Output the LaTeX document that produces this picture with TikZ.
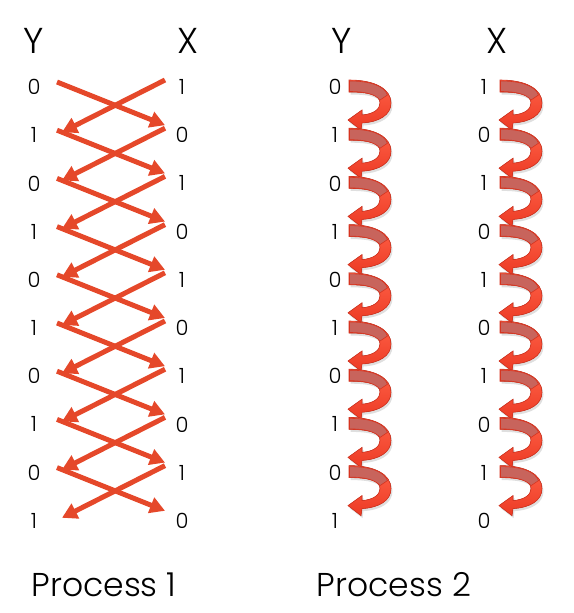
\documentclass[tikz,border=0pt]{standalone}
\usepackage{fontspec}
\setmainfont{Poppins Light}
\usetikzlibrary{arrows.meta,calc,shadows}
\definecolor{arrowred}{RGB}{229,72,42}
\definecolor{curlline}{RGB}{214,52,32}
\definecolor{curltop}{RGB}{255,98,72}
\definecolor{curlbottom}{RGB}{236,58,36}
\definecolor{curlback}{RGB}{200,100,92}
\tikzset{
  bit/.style={font=\fontsize{21}{21}\selectfont, inner sep=0pt},
  head/.style={font=\fontsize{36}{36}\selectfont, inner sep=0pt},
  title/.style={font=\fontsize{33}{33}\selectfont, inner sep=0pt},
  xarrow/.style={draw=arrowred, line width=5pt, -{Triangle[length=15pt,width=16pt]}},
  curl/.pic={
    % front of the ribbon
    \filldraw[draw=curlline, line width=0.6pt, top color=curltop, bottom color=curlbottom,
      drop shadow={shadow xshift=1.5pt, shadow yshift=-2.5pt, opacity=0.25}]
      (0,-7) .. controls (26,-7) and (42,2) .. (42,16)
      .. controls (42,28) and (30,35) .. (13,36)
      -- (12,43) -- (-1,33) -- (13,23) -- (13,28)
      .. controls (25,27) and (31,22) .. (31,16)
      .. controls (31,8) and (20,5) .. (0,5) -- cycle;
    % back of the ribbon
    \filldraw[draw=curlline, line width=0.6pt, fill=curlback]
      (0.5,-6) .. controls (22,-6) and (35,-1) .. (38.5,8)
      -- (31,13) .. controls (26,7) and (16,4.5) .. (0.5,4.5) -- cycle;
  }
}
\begin{document}
\begin{tikzpicture}[x=1pt, y=-1pt]
\useasboundingbox (0,0) rectangle (573,613);
% headings
\node[head] (ya) at (34,41) {Y};
\node[head] (xa) at (188,41) {X};
\node[head] (yb) at (342,41) {Y};
\node[head] (xb) at (497,41) {X};
% rows of bits
\foreach \i in {0,...,9} {
  \pgfmathtruncatemacro\vy{mod(\i,2)}
  \pgfmathtruncatemacro\vx{1-\vy}
  \pgfmathsetmacro\ry{87+48.2*\i}
  \node[bit] (ya\i) at (34,\ry) {\vy};
  \node[bit] (xa\i) at (182,\ry) {\vx};
  \node[bit] (yb\i) at (335,\ry) {\vy};
  \node[bit] (xb\i) at (484,\ry) {\vx};
}
% process 1: crossed arrows
\foreach \i [evaluate=\i as \j using int(\i+1)] in {0,...,8} {
  \draw[xarrow] ($(ya\i)+(23,-5)$) -- ($(xa\j)+(-17,-10)$);
  \draw[xarrow] ($(xa\i)+(-17,-7)$) -- ($(ya\j)+(28,-3)$);
}
% process 2: curled arrows
\foreach \i in {0,...,8} {
  \pic at ($(yb\i)+(14,0)$) {curl};
  \pic at ($(xb\i)+(16,0)$) {curl};
}
\node[title] (p1) at (104,585) {Process 1};
\node[title] (p2) at (394,585) {Process 2};
\end{tikzpicture}
\end{document}
